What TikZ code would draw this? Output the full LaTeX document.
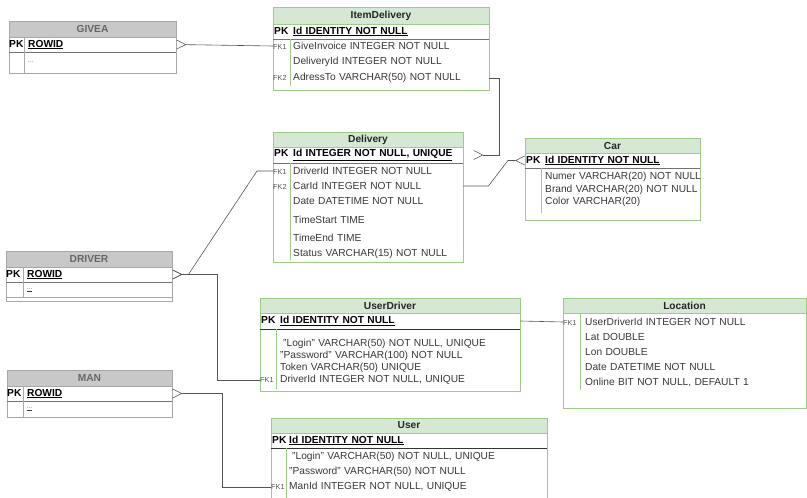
\documentclass[tikz,border=0pt]{standalone}
\usepackage{fontspec}
\setmainfont{Liberation Sans}
\usetikzlibrary{arrows.meta,calc}
\definecolor{grnfill}{HTML}{D5E8D4}
\definecolor{grnline}{HTML}{9CCC86}
\definecolor{gryfill}{HTML}{C8C8C8}
\definecolor{gryline}{HTML}{A8A8A8}
\definecolor{txt}{HTML}{383838}
\definecolor{fkc}{HTML}{555555}
\definecolor{conc}{HTML}{555555}
\newcommand{\erow}[7]{\node[rowbox,text width=#4pt] (#1) at (#2,#3) {\mbox{\makebox[#5pt][l]{#6}#7}};}
\newcommand{\pkk}{\hspace{1pt}\textbf{\color{black}PK}}
\newcommand{\fkk}[1]{{\fontsize{7.3}{8}\selectfont\color{fkc}FK#1}}
\newcommand{\pkt}[1]{\textbf{\color{black}\underline{#1}}}
\newcommand{\smalldots}{{\fontsize{6}{7}\selectfont\color{fkc}...}}
\begin{document}
\begin{tikzpicture}[x=1pt,y=-1pt,
  every node/.style={font=\fontsize{10.2}{12}\selectfont, text=txt},
  rowbox/.style={anchor=west, inner sep=0pt, align=left, minimum height=12pt},
  hdrtext/.style={font=\fontsize{10.2}{12}\selectfont\bfseries, text=black!85},
  ghdrtext/.style={font=\fontsize{10.2}{12}\selectfont\bfseries, text=black!60},
  gframe/.style={draw=grnline, line width=0.8pt, fill=white},
  ghead/.style={draw=grnline, line width=0.8pt, fill=grnfill},
  gdiv/.style={draw=grnline, line width=0.7pt},
  yframe/.style={draw=gryline, line width=0.8pt, fill=white},
  yhead/.style={draw=gryline, line width=0.8pt, fill=gryfill},
  ydiv/.style={draw=gryline, line width=0.6pt},
  pksep/.style={draw=black!55, line width=0.8pt},
  pksepdark/.style={draw=black!80, line width=0.8pt},
  crowf/.tip={Straight Barb[reversed,length=9pt,width=9pt,line width=0.6pt]},
  conn/.style={draw=conc, line width=0.6pt}]
\useasboundingbox (0,0) rectangle (807,498);

% ---------------- GIVEA ----------------
\draw[yframe] (9,21) rectangle (176,73);
\draw[yhead] (9,21) rectangle (176,37);
\draw[pksep] (9,52) -- (176,52);
\draw[ydiv] (24,37) -- (24,73);
\node[ghdrtext] (gv-h) at (92.5,29) {GIVEA};
\erow{gv-pk}{9}{44.5}{167}{19}{\textbf{\color{black}PK}}{\pkt{ROWID}}
\erow{gv-r1}{9}{62}{167}{19}{}{\smalldots}

% ---------------- ItemDelivery ----------------
\draw[gframe] (273,7) rectangle (489,90);
\draw[ghead] (273,7) rectangle (489,24);
\draw[pksep] (273,39) -- (489,39);
\draw[gdiv] (290,39) -- (290,86);
\node[hdrtext] (id-h) at (381,15.5) {ItemDelivery};
\erow{id-pk}{273}{31.5}{216}{20}{\pkk}{\pkt{Id IDENTITY NOT NULL}}
\erow{id-r1}{273}{46}{216}{20}{\fkk{1}}{GiveInvoice INTEGER NOT NULL}
\erow{id-r2}{273}{62}{216}{20}{}{DeliveryId INTEGER NOT NULL}
\erow{id-r3}{273}{78}{216}{20}{\fkk{2}}{AdressTo VARCHAR(50) NOT NULL}

% ---------------- Delivery ----------------
\draw[gframe] (273,132) rectangle (463,262);
\draw[ghead] (273,132) rectangle (463,147);
\draw[pksep] (273,163) -- (463,163);
\draw[gdiv] (290,163) -- (290,260);
\node[hdrtext] (dl-h) at (368,139.5) {Delivery};
\erow{dl-pk}{273}{155}{190}{20}{\pkk}{\pkt{Id INTEGER NOT NULL, UNIQUE}}
\erow{dl-r1}{273}{171}{190}{20}{\fkk{1}}{DriverId INTEGER NOT NULL}
\erow{dl-r2}{273}{186}{190}{20}{\fkk{2}}{CarId INTEGER NOT NULL}
\erow{dl-r3}{273}{201}{190}{20}{}{Date DATETIME NOT NULL}
\erow{dl-r4}{273}{220}{190}{20}{}{TimeStart TIME}
\erow{dl-r5}{273}{238}{190}{20}{}{TimeEnd TIME}
\erow{dl-r6}{273}{254}{190}{20}{}{Status VARCHAR(15) NOT NULL}

% ---------------- Car ----------------
\draw[gframe] (525,138) rectangle (700,220);
\draw[ghead] (525,138) rectangle (700,153);
\draw[pksep] (525,168) -- (700,168);
\draw[gdiv] (541,168) -- (541,213);
\node[hdrtext] (car-h) at (612.5,145.5) {Car};
\erow{car-pk}{525}{160.5}{175}{20}{\pkk}{\pkt{Id IDENTITY NOT NULL}}
\erow{car-r1}{525}{177}{175}{20}{}{Numer VARCHAR(20) NOT NULL}
\erow{car-r2}{525}{190}{175}{20}{}{Brand VARCHAR(20) NOT NULL}
\erow{car-r3}{525}{202}{175}{20}{}{Color VARCHAR(20)}

% ---------------- DRIVER ----------------
\draw[yframe] (6,251) rectangle (172,301);
\draw[yhead] (6,251) rectangle (172,267);
\draw[pksep] (6,282) -- (172,282);
\draw[ydiv] (6,297) -- (172,297);
\draw[ydiv] (23,267) -- (23,297);
\node[ghdrtext] (drv-h) at (89,259) {DRIVER};
\erow{drv-pk}{6}{274.5}{166}{21}{\textbf{\color{black}PK}}{\pkt{ROWID}}
\erow{drv-r1}{6}{290}{166}{21}{}{\underline{\smalldots}}

% ---------------- UserDriver ----------------
\draw[gframe] (260,298) rectangle (520,391);
\draw[ghead] (260,298) rectangle (520,313);
\draw[pksepdark] (260,329) -- (520,329);
\draw[gdiv] (276,329) -- (276,389);
\node[hdrtext] (ud-h) at (390,305.5) {UserDriver};
\erow{ud-pk}{260}{321}{260}{20}{\pkk}{\pkt{Id IDENTITY NOT NULL}}
\erow{ud-r1}{260}{344}{260}{20}{}{\hspace{3pt}"Login" VARCHAR(50) NOT NULL, UNIQUE}
\erow{ud-r2}{260}{356}{260}{20}{}{"Password" VARCHAR(100) NOT NULL}
\erow{ud-r3}{260}{368}{260}{20}{}{Token VARCHAR(50) UNIQUE}
\erow{ud-r4}{260}{380}{260}{20}{\fkk{1}}{DriverId INTEGER NOT NULL, UNIQUE}

% ---------------- Location ----------------
\draw[gframe] (563,298) rectangle (806,408);
\draw[ghead] (563,298) rectangle (806,313);
\draw[gdiv] (580,313) -- (580,390);
\node[hdrtext] (loc-h) at (684.5,305.5) {Location};
\erow{loc-r1}{563}{322}{243}{22}{\fkk{1}}{UserDriverId INTEGER NOT NULL}
\erow{loc-r2}{563}{337}{243}{22}{}{Lat DOUBLE}
\erow{loc-r3}{563}{352}{243}{22}{}{Lon DOUBLE}
\erow{loc-r4}{563}{367}{243}{22}{}{Date DATETIME NOT NULL}
\erow{loc-r5}{563}{382}{243}{22}{}{Online BIT NOT NULL, DEFAULT 1}

% ---------------- MAN ----------------
\draw[yframe] (7,370) rectangle (172,417);
\draw[yhead] (7,370) rectangle (172,386);
\draw[pksep] (7,401) -- (172,401);
\draw[ydiv] (23,386) -- (23,417);
\node[ghdrtext] (man-h) at (89.5,378) {MAN};
\erow{man-pk}{7}{393.5}{165}{20}{\textbf{\color{black}PK}}{\pkt{ROWID}}
\erow{man-r1}{7}{409}{165}{20}{}{\underline{\smalldots}}

% ---------------- User ----------------
\fill[white] (271,418) rectangle (547,498);
\draw[grnline, line width=0.8pt] (271,498) |- (547,418) -- (547,498);
\draw[ghead] (271,418) rectangle (547,433);
\draw[pksepdark] (271,448) -- (547,448);
\draw[gdiv] (286,448) -- (286,498);
\node[hdrtext] (us-h) at (409,425.5) {User};
\erow{us-pk}{271}{440.5}{276}{18}{\pkk}{\pkt{Id IDENTITY NOT NULL}}
\erow{us-r1}{271}{457}{276}{18}{}{\hspace{3pt}"Login" VARCHAR(50) NOT NULL, UNIQUE}
\erow{us-r2}{271}{472}{276}{18}{}{"Password" VARCHAR(50) NOT NULL}
\erow{us-r3}{271}{487}{276}{18}{\fkk{1}}{ManId INTEGER NOT NULL, UNIQUE}

% ---------------- Connectors ----------------
\draw[conn, {crowf}-] (gv-pk.east) -- (id-r1.west);
\draw[conn, -{crowf}] (id-r3.east) -- ++(10,0) |- ($(dl-pk.east)+(10,0)$);
\draw[conn, -{crowf}] (dl-r2.east) -- ++(25,0) -- ($(car-pk.west)+(-17,0)$) -- (car-pk.west);
\draw[conn, {crowf}-] (drv-pk.east) -- ++(16,0) -- ($(dl-r1.west)+(-16,0)$) -- (dl-r1.west);
\coordinate (drvbend) at (217,274.5);
\draw[conn, {crowf}-] (drv-pk.east) -- (drvbend) |- (ud-r4.west);
\draw[conn] (ud-pk.east) -- (loc-r1.west);
\coordinate (manbend) at (222,393.5);
\draw[conn, {crowf}-] (man-pk.east) -- (manbend) |- (us-r3.west);
\end{tikzpicture}
\end{document}
